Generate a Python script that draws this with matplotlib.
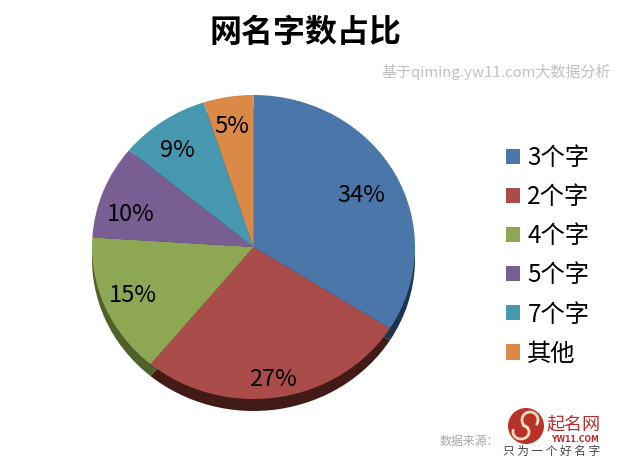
import numpy as np
import matplotlib
matplotlib.use('Agg')
import matplotlib.pyplot as plt
from matplotlib.patches import Circle, Arc

plt.rcParams['font.family'] = ['Noto Sans CJK SC', 'DejaVu Sans']

categories = ['3个字', '2个字', '4个字', '5个字', '7个字', '其他']
values = [34, 27, 15, 10, 9, 5]
colors = ['#4a76a9', '#aa4c4a', '#8da754', '#785e92', '#4698b0', '#da8a46']
side_colors = ['#1b3550', '#421a18', '#4f6028', '#3c2c4c', '#1f4c5a', '#70431f']
label_radii = [0.75, 0.86, 0.81, 0.79, 0.80, 0.80]
# nudges for the percent labels, in pixels
label_nudge = [(2, -3), (-2, -3), (-1, 0), (-4, -12), (-4, -4), (-2, 0)]

W, H = 640, 469
fig = plt.figure(figsize=(6.4, 4.69), dpi=100)

# pie is an ellipse, so the axes box is the ellipse bounding box
cx, cy, rx, ry = 253.5, 247, 161.5, 152
ax = fig.add_axes([(cx - rx) / W, 1 - (cy + ry) / H, 2 * rx / W, 2 * ry / H])
depth = 12 / ry
ax.pie(values, colors=side_colors, startangle=90, counterclock=False, radius=1,
       center=(0, -depth), wedgeprops={'linewidth': 0}, frame=True)
wedges, _ = ax.pie(values, colors=colors, startangle=90, counterclock=False, radius=1,
                   wedgeprops={'linewidth': 0}, frame=True)
ax.set_aspect('auto')
ax.set_xlim(-1, 1)
ax.set_ylim(-1, 1)
ax.axis('off')

for w, v, r, n in zip(wedges, values, label_radii, label_nudge):
    a = np.deg2rad((w.theta1 + w.theta2) / 2)
    ax.annotate(f'{v}%', (r * np.cos(a), r * np.sin(a)), xytext=n, textcoords='offset pixels',
                ha='center', va='center', fontsize=17, color='black')

ax.legend(wedges, categories, loc='upper left', bbox_to_anchor=(506 / W, 1 - 145 / H),
          bbox_transform=fig.transFigure, frameon=False, fontsize=17.5, handlelength=0.58,
          handleheight=0.58, handletextpad=0.3, labelspacing=0.54, borderaxespad=0, borderpad=0)

# overlay in pixel coordinates for titles and logo
ov = fig.add_axes([0, 0, 1, 1])
ov.set_xlim(0, W)
ov.set_ylim(H, 0)
ov.axis('off')
ov.patch.set_alpha(0)

ov.text(305, 33, '网名字数占比', ha='center', va='center', fontsize=23, fontweight='bold', color='black')
ov.text(611, 72, '基于qiming.yw11.com大数据分析', ha='right', va='center', fontsize=10.8, color='#c0c0c0')
ov.text(439, 442, '数据来源：', ha='left', va='center', fontsize=8.6, color='#a8a8a8')

ov.add_patch(Circle((526, 426), 18, color='#b8322a', lw=0))
ov.add_patch(Arc((530, 420), 16, 16, theta1=100, theta2=400, color='#f0dcc0', lw=2))
ov.add_patch(Arc((521, 432), 16, 14, theta1=280, theta2=560, color='#f0dcc0', lw=2))
ov.text(574, 424, '起名网', ha='center', va='center', fontsize=13, color='#b5302c')
ov.text(575, 439, 'YW11.COM', ha='center', va='center', fontsize=5.6, color='#b5302c',
        fontweight='bold', family='DejaVu Sans')
ov.text(552, 451, '只 为 一 个 好 名 字', ha='center', va='center', fontsize=8.4, color='#444444')

fig.savefig('out.png', dpi=100, facecolor='white')
